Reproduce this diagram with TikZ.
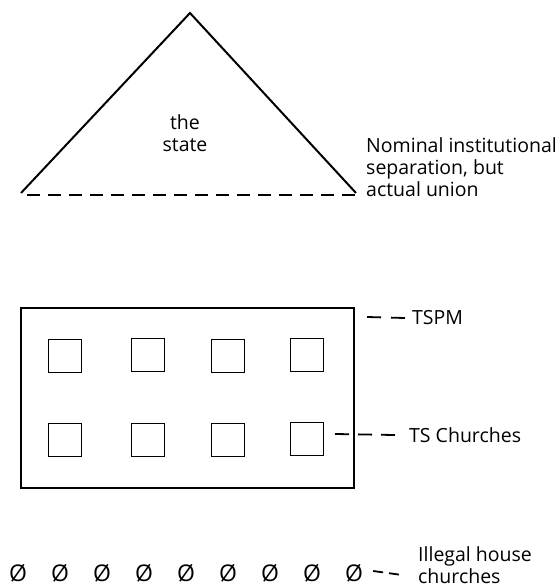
\documentclass[tikz,border=0pt]{standalone}
\usepackage{fontspec}
\setmainfont{Open Sans}
\usetikzlibrary{positioning}
\tikzset{line/.style = {line width=2pt}}
\tikzset{dashline/.style = {line width=1.8pt, dash pattern=on 13pt off 8pt}}
\tikzset{church/.style = {draw, line width=1.9pt, minimum size=33pt, inner sep=0pt}}
\tikzset{label text/.style = {inner sep=0pt, anchor=west, align=left, font=\fontsize{19.5}{22}\selectfont}}
\tikzset{house/.style = {inner sep=0pt, font=\fontsize{23}{23}\selectfont}}

\begin{document}
\begin{tikzpicture}[x=1pt, y=-1pt]
			\useasboundingbox (0,0) rectangle (558,588);
			% the state
			\node (0) at (190, 13) {};
			\node (1) at (21, 193) {};
			\node (2) at (356, 193) {};
			\node [label text, anchor=center, align=center] (3) at (185, 133) {the\\state};
			\node [label text] (4) at (366, 167) {Nominal institutional\\separation, but\\actual union};
			\draw [line] (1.center) to (0.center) to (2.center);
			\draw [dashline] ([xshift=6pt, yshift=-2pt]1.center) to ([yshift=-2pt]2.center);
			% TSPM
			\node [draw, line width=2pt, minimum width=333pt, minimum height=180pt, inner sep=0pt] (5) at (187, 398) {};
			\node [church] (6) at (65, 356) {};
			\node [church] (7) at (148, 355) {};
			\node [church] (8) at (228, 356) {};
			\node [church] (9) at (307, 355) {};
			\node [church] (10) at (65, 440) {};
			\node [church] (11) at (148, 440) {};
			\node [church] (12) at (228, 440) {};
			\node [church] (13) at (307, 439) {};
			\coordinate (14) at (367, 317);
			\node [label text] (15) at (412, 318) {TSPM};
			\coordinate (16) at (335, 434);
			\node [label text] (17) at (409, 435) {TS Churches};
			\draw [dashline, dash pattern=on 14pt off 10pt] (14) to ([xshift=-7pt]15.west);
			\draw [dashline, dash pattern=on 14pt off 9pt] (16) to ([xshift=-14pt]17.west);
			% house churches
			\node [house] (18) at (18, 573) {Ø};
			\node [house] (19) at (60, 573) {Ø};
			\node [house] (20) at (102, 573) {Ø};
			\node [house] (21) at (144, 573) {Ø};
			\node [house] (22) at (186, 573) {Ø};
			\node [house] (23) at (228, 573) {Ø};
			\node [house] (24) at (270, 573) {Ø};
			\node [house] (25) at (312, 573) {Ø};
			\node [house] (26) at (354, 573) {Ø};
			\coordinate (28) at (402, 575);
			\node [label text] (27) at (418, 565) {Illegal house\\churches};
			\draw [dashline, dash pattern=on 10pt off 6pt] ([xshift=10pt, yshift=2pt]26.east) to (28);
		\end{tikzpicture}
\end{document}
